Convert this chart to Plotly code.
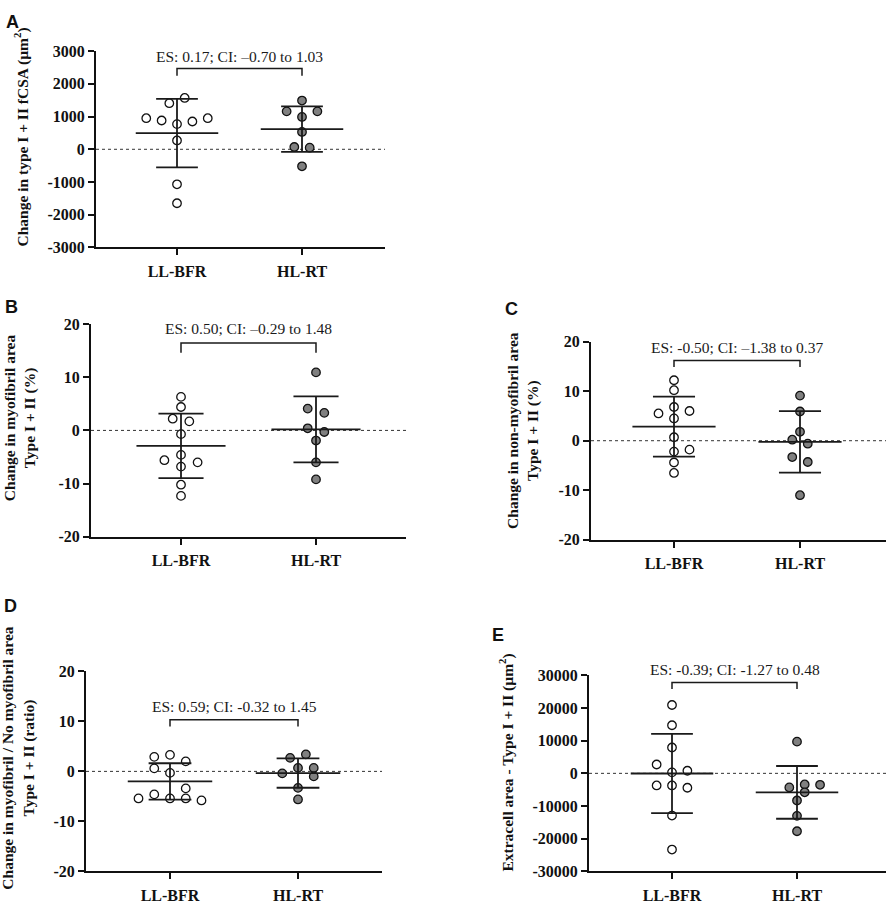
import plotly.graph_objects as go

# groups on the x axis
groups = ["LL-BFR", "HL-RT"]

# A: change in type I + II fCSA (um^2)
a_llbfr = [1570, 1410, 950, 880, 770, 850, 950, 270, -1070, -1650]
a_hlrt = [1490, 1160, 1160, 990, 530, 70, 50, -520]
a_mean = [495, 615]
a_sd = [1045, 695]

# B: change in myofibril area (%)
b_llbfr = [6.3, 4.4, 2.2, 1.7, -0.7, -4.6, -5.6, -6.0, -6.8, -10.2, -12.3]
b_hlrt = [10.9, 4.1, 3.3, 0.4, -0.3, -1.9, -6.0, -9.2]
b_mean = [-2.9, 0.2]
b_sd = [6.05, 6.2]

# C: change in non-myofibril area (%)
c_llbfr = [12.2, 10.2, 6.8, 5.5, 6.0, 4.5, 0.7, -2.2, -1.8, -4.4, -6.5]
c_hlrt = [9.1, 5.9, 1.8, 0.2, -0.6, -3.3, -4.3, -11.0]
c_mean = [2.85, -0.24]
c_sd = [6.05, 6.2]

# D: change in myofibril / no myofibril area (ratio)
d_llbfr = [2.9, 3.3, 2.0, 0.6, -0.3, -3.4, -5.4, -4.6, -5.4, -5.4, -5.8]
d_hlrt = [2.7, 3.4, 0.7, 0.7, -0.4, -1.0, -3.3, -5.6]
d_mean = [-2.0, -0.33]
d_sd = [3.63, 2.94]

# E: extracell area (um^2)
e_llbfr = [20900, 14700, 7900, 2700, 300, 800, -3700, -3700, -4400, -12900, -23300]
e_hlrt = [9700, -4300, -3400, -3500, -5800, -8300, -13000, -17700]
e_mean = [-50, -5815]
e_sd = [12120, 8065]

# effect size labels
es_labels = [
    "ES: 0.17; CI: \u20130.70 to 1.03",
    "ES: 0.50; CI: \u20130.29 to 1.48",
    "ES: -0.50; CI: \u20131.38 to 0.37",
    "ES: 0.59; CI: -0.32 to 1.45",
    "ES: -0.39; CI: -1.27 to 0.48",
]

# y tick labels
ticks_a = [-3000, -2000, -1000, 0, 1000, 2000, 3000]
ticks_pct = [-20, -10, 0, 10, 20]
ticks_e = [-30000, -20000, -10000, 0, 10000, 20000, 30000]

W, H = 886, 905
SERIF = "Liberation Serif"
LANE = 0.123

panels = [
    dict(letter="A", ll=a_llbfr, hl=a_hlrt, mean=a_mean, sd=a_sd, ticks=ticks_a,
         title="Change in type I + II fCSA (\u00b5m<sup>2</sup>)",
         br=(2850, 2470, 2250),
         box=(96, 385, 44, 244), cats=(177, 302), ttl=(22, 132), let=(12, 14),
         lanes=([0.5, -0.5, -2, -1, 0, 1, 2, 0, 0, 0], [0, -1, 1, 0, 0, -0.5, 0.5, 0])),
    dict(letter="B", ll=b_llbfr, hl=b_hlrt, mean=b_mean, sd=b_sd, ticks=ticks_pct,
         title="Change in myofibril area<br>Type I + II (%)",
         br=(19.1, 16.4, 14.6),
         box=(91, 406, 322, 539), cats=(181, 316), ttl=(20, 418), let=(11, 305),
         lanes=([0, 0, -0.5, 0.5, 0, 0, -1, 1, 0, 0, 0], [0, -0.5, 0.5, -0.5, 0.5, 0, 0, 0])),
    dict(letter="C", ll=c_llbfr, hl=c_hlrt, mean=c_mean, sd=c_sd, ticks=ticks_pct,
         title="Change in non-myofibril area<br>Type I + II (%)",
         br=(18.9, 16.2, 14.9),
         box=(591, 886, 340, 542), cats=(674, 800), ttl=(523, 431), let=(512, 307),
         lanes=([0, 0, 0, -1, 1, 0, 0, 0, 1, 0, 0], [0, 0, 0, -0.5, 0.5, -0.5, 0.5, 0])),
    dict(letter="D", ll=d_llbfr, hl=d_hlrt, mean=d_mean, sd=d_sd, ticks=ticks_pct,
         title="Change in myofibril / No myofibril area<br>Type I + II (ratio)",
         br=(13.0, 10.3, 8.95),
         box=(86, 382, 676, 880), cats=(170, 298), ttl=(18, 765), let=(10, 609),
         lanes=([-1, 0, 1, -1, 0, 1, -2, -1, 0, 1, 2], [-0.5, 0.5, 0, 1, -1, 1, 0, 0])),
    dict(letter="E", ll=e_llbfr, hl=e_hlrt, mean=e_mean, sd=e_sd, ticks=ticks_e,
         title="Extracell area - Type I + II (\u00b5m<sup>2</sup>)",
         br=(31600, 27800, 25800),
         box=(589, 886, 680, 880), cats=(672, 797), ttl=(507, 769), let=(498, 639),
         lanes=([0, 0, 0, -1, 0, 1, -1, 0, 1, 0, 0], [0, -0.5, 0.5, 1.5, 0.5, 0, 0, 0])),
]

fig = go.Figure()
annotations = []
shapes = []
lay = {}

for i, p in enumerate(panels):
    n = "" if i == 0 else str(i + 1)
    xa, ya = "x" + n, "y" + n
    x0, x1, y0, y1 = p["box"]
    c0, c1 = p["cats"]
    step = c1 - c0
    xr = [-(c0 - x0) / step, 1 + (x1 - c1) / step]
    lo, hi = p["ticks"][0], p["ticks"][-1]

    # points
    for j, (vals, lanes) in enumerate(zip([p["ll"], p["hl"]], p["lanes"])):
        fig.add_trace(go.Scatter(
            x=[j + l * LANE for l in lanes], y=vals, mode="markers",
            marker=dict(size=8.5, color="white" if j == 0 else "#808080",
                        line=dict(color="#111111", width=1.3)),
            xaxis=xa, yaxis=ya, showlegend=False, hoverinfo="y"))

    # mean and SD
    lx, ly = [], []
    for j in range(2):
        m, s = p["mean"][j], p["sd"][j]
        lx += [j - 0.33, j + 0.33, None, j, j, None,
               j - 0.167, j + 0.167, None, j - 0.167, j + 0.167, None]
        ly += [m, m, None, m - s, m + s, None, m + s, m + s, None, m - s, m - s, None]
    fig.add_trace(go.Scatter(x=lx, y=ly, mode="lines", line=dict(color="#1a1a1a", width=1.8),
                             xaxis=xa, yaxis=ya, showlegend=False, hoverinfo="skip"))

    # bracket
    t, b, leg = p["br"]
    fig.add_trace(go.Scatter(x=[0, 0, 1, 1], y=[leg, b, b, leg], mode="lines",
                             line=dict(color="#1a1a1a", width=1.5), cliponaxis=False,
                             xaxis=xa, yaxis=ya, showlegend=False, hoverinfo="skip"))
    annotations.append(dict(x=0.5, y=(t - lo) / (hi - lo), xref=xa, yref=ya + " domain",
                            text=es_labels[i], showarrow=False,
                            font=dict(family=SERIF, size=15.5, color="#1a1a1a"),
                            xanchor="center", yanchor="middle"))

    # zero line
    shapes.append(dict(type="line", xref=xa + " domain", yref=ya, x0=0, x1=1, y0=0, y1=0,
                       line=dict(color="#333333", width=1, dash="dot"), layer="below"))

    # axis title and panel letter
    annotations.append(dict(x=p["ttl"][0] / W, y=1 - p["ttl"][1] / H, xref="paper", yref="paper",
                            text=p["title"], textangle=-90, showarrow=False,
                            font=dict(family=SERIF, size=15.5, color="#111111", weight="bold"),
                            xanchor="center", yanchor="middle"))
    annotations.append(dict(x=p["let"][0] / W, y=1 - p["let"][1] / H, xref="paper", yref="paper",
                            text=p["letter"], showarrow=False,
                            font=dict(family="Liberation Sans", size=18, color="#111111", weight="bold"),
                            xanchor="center", yanchor="middle"))

    tickfont = dict(family=SERIF, size=16, color="#111111", weight="bold")
    lay["xaxis" + n] = dict(domain=[x0 / W, min(x1 / W, 1)], range=xr, anchor=ya,
                            tickvals=[0, 1], ticktext=groups, ticks="outside", ticklen=6,
                            ticklabelstandoff=2,
                            tickwidth=2, tickcolor="#111111", showline=True, linewidth=2,
                            linecolor="#111111", showgrid=False, zeroline=False,
                            tickfont=tickfont, fixedrange=True)
    lay["yaxis" + n] = dict(domain=[1 - y1 / H, 1 - y0 / H], range=[lo, hi],
                            anchor=xa, tickvals=p["ticks"], ticktext=[str(v) for v in p["ticks"]],
                            ticks="outside", ticklen=6, tickwidth=2, tickcolor="#111111",
                            showline=True, linewidth=2, linecolor="#111111", showgrid=False,
                            zeroline=False, tickfont=tickfont, fixedrange=True)

fig.update_layout(
    width=W, height=H, margin=dict(l=0, r=0, t=0, b=0),
    plot_bgcolor="white", paper_bgcolor="white",
    annotations=annotations, shapes=shapes, **lay)

# drop the browser's default body margin so the figure sits at the page corner
fig.write_html("out.html", config={"displayModeBar": False},
               post_script="document.body.style.margin='0px';")
